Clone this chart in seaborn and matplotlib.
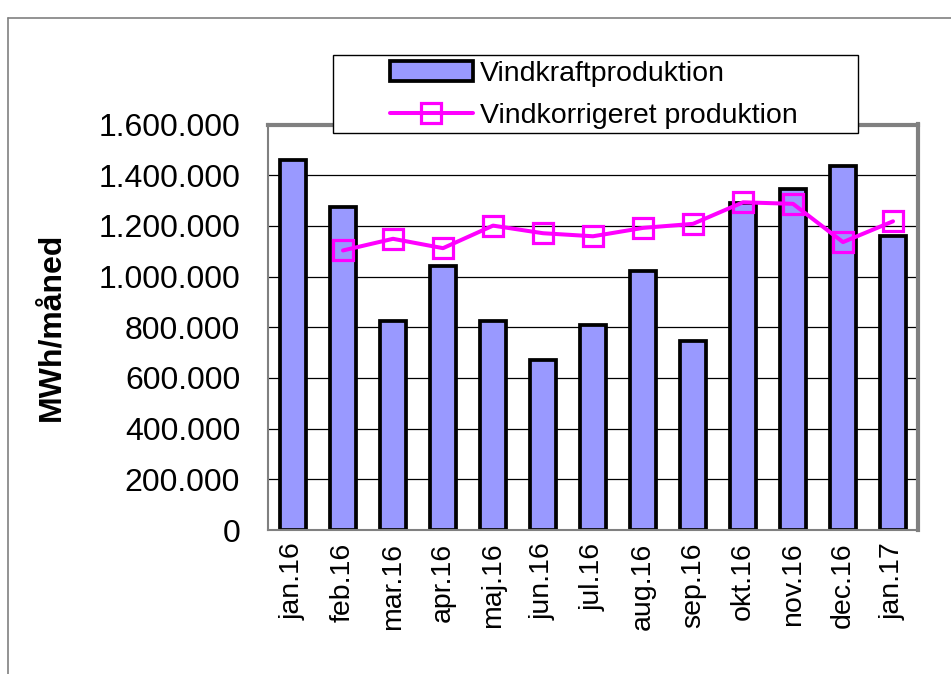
import numpy as np
import pandas as pd
import matplotlib.pyplot as plt
from matplotlib.patches import Rectangle
from matplotlib.lines import Line2D
import matplotlib.ticker as mticker
import seaborn as sns

# data
maaneder = ['jan.16', 'feb.16', 'mar.16', 'apr.16', 'maj.16', 'jun.16', 'jul.16',
            'aug.16', 'sep.16', 'okt.16', 'nov.16', 'dec.16', 'jan.17']
vindkraft = [1460000, 1276000, 824000, 1041000, 826000, 671000, 809000,
             1020000, 745000, 1289000, 1346000, 1438000, 1159000]
korrigeret = [np.nan, 1103000, 1149000, 1112000, 1201000, 1171000, 1159000,
              1192000, 1208000, 1293000, 1287000, 1136000, 1218000]
y_ticks = [0, 200000, 400000, 600000, 800000, 1000000, 1200000, 1400000, 1600000]

sns.set_style('white')
plt.rcParams['font.family'] = ['Liberation Sans', 'DejaVu Sans']
plt.rcParams['text.color'] = 'black'
plt.rcParams['axes.labelcolor'] = 'black'

df = pd.DataFrame({'maaned': maaneder, 'vind': vindkraft, 'korr': korrigeret,
                   'pos': np.arange(len(maaneder))})

fig = plt.figure(figsize=(9.51, 6.74), dpi=100)
ax = fig.add_axes([268 / 951, 1 - 530 / 674, 650 / 951, 405.5 / 674])

sns.barplot(data=df, x='maaned', y='vind', color='#9999FF', saturation=1,
            edgecolor='black', linewidth=2.7, width=0.52, ax=ax,
            label='Vindkraftproduktion', zorder=2)
sns.lineplot(data=df.dropna(), x='pos', y='korr', color='#FF00FF', linewidth=2.9,
             marker='s', markersize=15, markerfacecolor='none',
             markeredgecolor='#FF00FF', markeredgewidth=2.3, ax=ax,
             label='Vindkorrigeret produktion', zorder=3)
if ax.get_legend() is not None:
    ax.get_legend().remove()

ax.set_xlim(-0.5, len(maaneder) - 0.5)
ax.set_ylim(0, 1600000)
ax.set_yticks(y_ticks)
ax.yaxis.set_major_formatter(mticker.FuncFormatter(lambda v, p: f'{int(v):,}'.replace(',', '.')))
ax.grid(axis='y', color='black', linewidth=0.9, zorder=1)
ax.set_axisbelow(True)

# ticks between categories, labels in the middle
ax.set_xticks(np.arange(-0.5, len(maaneder), 1))
ax.set_xticklabels([])
ax.set_xticks(np.arange(len(maaneder)), minor=True)
ax.set_xticklabels(maaneder, minor=True, rotation=90, fontsize=20.5)
ax.tick_params(axis='x', which='minor', length=0, pad=9, labelcolor='black')
ax.tick_params(axis='x', which='major', length=8, width=1.2, color='#808080', direction='out')
ax.tick_params(axis='y', length=9, width=1.2, color='#808080', direction='out',
               labelsize=23, pad=11, labelcolor='black')
ax.set_xlabel('')
ax.set_ylabel('MWh/måned', fontsize=23, fontweight='bold')
ax.yaxis.set_label_coords(-0.31, 0.5)

for s in ['left', 'bottom']:
    ax.spines[s].set_color('#808080')
    ax.spines[s].set_linewidth(1.5)
for s in ['top', 'right']:
    ax.spines[s].set_color('#808080')
    ax.spines[s].set_linewidth(3)

# outer chart frame (cut off at right and bottom)
fig.add_artist(Line2D([8 / 951, 8 / 951], [0, 1 - 18 / 674], color='#808080', linewidth=1.2))
fig.add_artist(Line2D([8 / 951, 1], [1 - 18 / 674, 1 - 18 / 674], color='#808080', linewidth=1.2))

# legend box
fig.add_artist(Rectangle((333 / 951, 1 - 133 / 674), 525 / 951, 78 / 674,
                         transform=fig.transFigure, facecolor='white',
                         edgecolor='black', linewidth=1, zorder=3))
h, l = ax.get_legend_handles_labels()
order = [l.index('Vindkraftproduktion'), l.index('Vindkorrigeret produktion')]
leg = fig.legend([h[i] for i in order], [l[i] for i in order], loc='upper left',
                 bbox_to_anchor=(390 / 951, 1 - 61 / 674),
                 frameon=False, fontsize=20.5, handlelength=2.9, handletextpad=0.25,
                 labelspacing=0.55, borderpad=0, borderaxespad=0)
leg.set_zorder(4)

fig.savefig('out.png', dpi=100)
